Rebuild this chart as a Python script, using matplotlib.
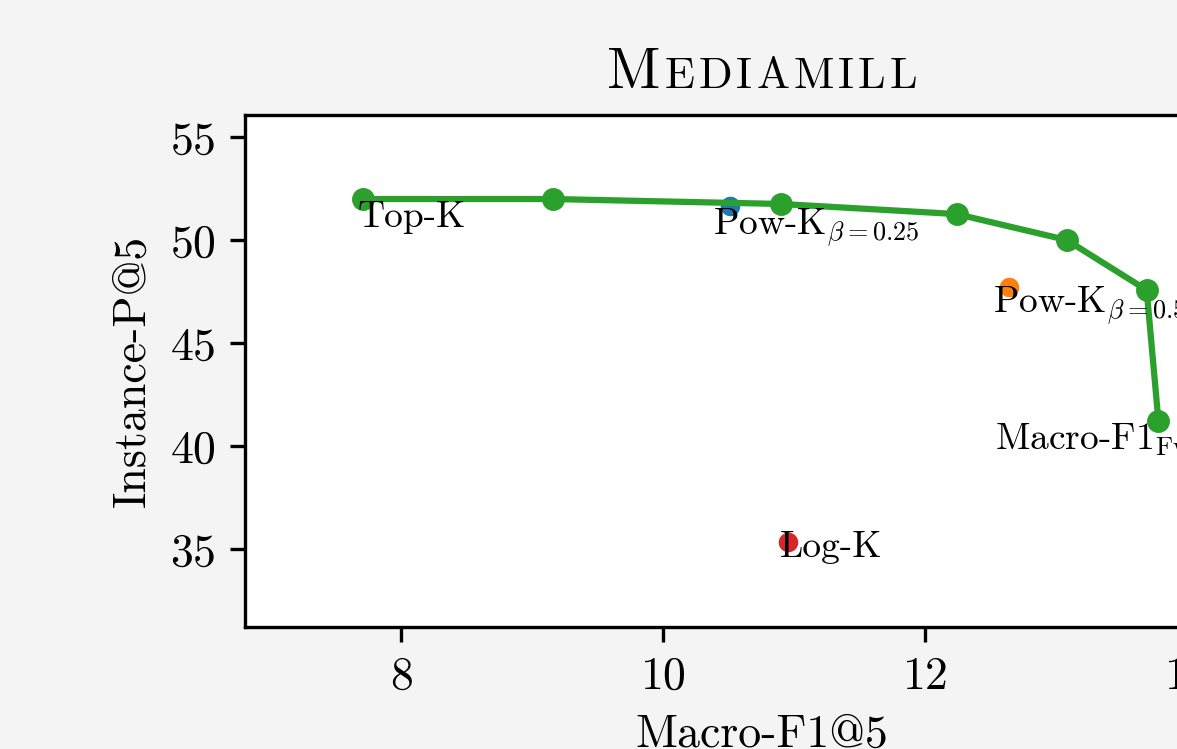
import matplotlib
matplotlib.use("Agg")
import matplotlib.pyplot as plt

plt.rcParams['font.family'] = ['serif']
plt.rcParams['font.serif'] = ['cmr10', 'DejaVu Serif']
plt.rcParams['mathtext.fontset'] = 'cm'
plt.rcParams['axes.formatter.use_mathtext'] = True

# Data
front_x = [7.71, 9.16, 10.90, 12.24, 13.08, 13.69, 13.78]
front_y = [51.99, 51.99, 51.75, 51.26, 50.00, 47.57, 41.21]

pow025_x, pow025_y = [10.51], [51.65]
pow05_x, pow05_y = [12.64], [47.72]
logk_x, logk_y = [10.95], [35.34]

labels = ['Top-K', r'Pow-K$_{\beta=0.25}$', r'Pow-K$_{\beta=0.5}$',
          r'Macro-F1$_{\mathrm{Fw}}$', 'Log-K']
label_x = [7.672, 10.382, 12.519, 12.534, 10.893]
label_y = [50.63, 50.24, 46.46, 39.81, 34.61]

xticks = [8, 10, 12, 14]
yticks = [35, 40, 45, 50, 55]

W, H, DPI = 1177, 749, 300
fig = plt.figure(figsize=(W / DPI, H / DPI), dpi=DPI, facecolor='#f4f4f4')
ax = fig.add_axes([245 / W, 1 - 627 / H, (1279 - 245) / W, (627 - 115) / H])
ax.set_facecolor('white')

ax.scatter(pow025_x, pow025_y, s=22, color='#1f77b4', zorder=2, linewidths=0)
ax.scatter(pow05_x, pow05_y, s=22, color='#ff7f0e', zorder=2, linewidths=0)
ax.scatter(logk_x, logk_y, s=22, color='#d62728', zorder=2, linewidths=0)
ax.plot(front_x, front_y, color='#2ca02c', lw=1.5, marker='o', ms=4.5, zorder=3)

for t, x, y in zip(labels, label_x, label_y):
    ax.text(x, y, t, fontsize=9, ha='left', va='baseline', zorder=4)

ax.set_xlim(6.81, 14.70)
ax.set_ylim(31.21, 56.07)
ax.set_xticks(xticks)
ax.set_yticks(yticks)
ax.tick_params(labelsize=11)
ax.set_xlabel('Macro-F1@5', fontsize=11)
ax.set_ylabel('Instance-P@5', fontsize=11)

# Small-caps title built letter by letter
fig.canvas.draw()
r = fig.canvas.get_renderer()
ty = 1 - 88 / H
title_letters = list('MEDIAMILL')
sizes = [14] + [10.6] * (len(title_letters) - 1)
texts = [fig.text(0, ty, c, fontsize=s, va='baseline', ha='left')
         for c, s in zip(title_letters, sizes)]
widths = [t.get_window_extent(r).width for t in texts]
target = 310.0
gap = max(0.0, (target - sum(widths)) / (len(texts) - 1))
pos = 762 - target / 2
for t, w in zip(texts, widths):
    t.set_x(pos / W)
    pos += w + gap

fig.savefig('out.png', dpi=DPI, facecolor=fig.get_facecolor())
